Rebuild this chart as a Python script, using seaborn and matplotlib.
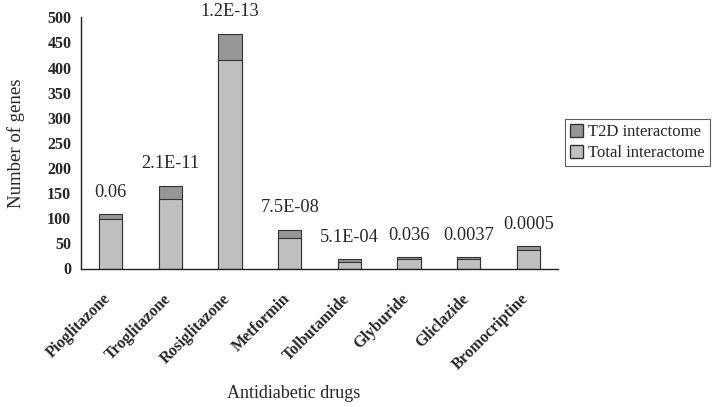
import numpy as np
import pandas as pd
import matplotlib
matplotlib.use("Agg")
import matplotlib.pyplot as plt
from matplotlib.patches import Patch
import seaborn as sns

drugs = ["Pioglitazone", "Troglitazone", "Rosiglitazone", "Metformin",
         "Tolbutamide", "Glyburide", "Gliclazide", "Bromocriptine"]
total_interactome = [98, 138, 416, 61, 12, 19, 18, 36]
t2d_interactome = [10, 27, 51, 16, 6, 3, 4, 8]
pvalues = ["0.06", "2.1E-11", "1.2E-13", "7.5E-08", "5.1E-04", "0.036", "0.0037", "0.0005"]

sns.set_style("white")
plt.rcParams["font.family"] = ["Liberation Serif", "DejaVu Serif"]

df = pd.DataFrame({"drug": drugs, "total": total_interactome, "t2d": t2d_interactome})
df["top"] = df["total"] + df["t2d"]

light = "#c0c0c0"
dark = "#969696"

fig = plt.figure(figsize=(7.13, 4.07), dpi=100)
ax = fig.add_axes([81 / 713, 1 - 268.5 / 407, (558 - 81) / 713, (268.5 - 17.3) / 407])

# stacked: draw full height in dark, then the total part on top of it in light
sns.barplot(data=df, x="drug", y="top", color=dark, saturation=1, width=0.39,
            edgecolor="#333333", linewidth=0.8, ax=ax)
sns.barplot(data=df, x="drug", y="total", color=light, saturation=1, width=0.39,
            edgecolor="#333333", linewidth=0.8, ax=ax)

for i, (h, p) in enumerate(zip(df["top"], pvalues)):
    ax.annotate(p, (i, h), xytext=(0, 16), textcoords="offset points",
                ha="center", va="center", fontsize=13.2)

ax.set_ylim(0, 500)
ax.set_xlim(-0.5, len(drugs) - 0.5)
ax.set_yticks(range(0, 501, 50))
ax.set_yticklabels([str(v) for v in range(0, 501, 50)], fontweight="bold", fontsize=11.5)
# labels sit a bit left of the bar centre (major ticks are hidden)
ax.set_xticks(np.arange(len(drugs)) - 0.13)
ax.set_xticklabels(drugs, rotation=45, ha="right", rotation_mode="anchor",
                   fontweight="bold", fontsize=11.5)
ax.set_xticks(np.arange(-0.5, len(drugs), 1), minor=True)
ax.tick_params(axis="x", which="major", length=0, pad=16)
ax.tick_params(axis="x", which="minor", length=5, width=1, color="#222222", direction="out")
ax.tick_params(axis="y", length=5, width=1, color="#222222", direction="out", pad=2)
ax.set_xlabel("")
ax.set_ylabel("Number of genes", fontsize=13.5)
ax.yaxis.set_label_coords(-(81 - 25) / 477, 0.5)

for s in ["top", "right"]:
    ax.spines[s].set_visible(False)
for s in ["left", "bottom"]:
    ax.spines[s].set_color("#222222")
    ax.spines[s].set_linewidth(1)

fig.text(294 / 713, 1 - 393 / 407, "Antidiabetic drugs", ha="center", va="center", fontsize=13)

handles = [Patch(facecolor=dark, edgecolor="#333333", label="T2D interactome"),
           Patch(facecolor=light, edgecolor="#333333", label="Total interactome")]
leg = fig.legend(handles=handles, loc="upper left", bbox_to_anchor=(565 / 713, 1 - 119 / 407),
                 fontsize=12, frameon=True, fancybox=False, handlelength=0.8, handleheight=0.8,
                 handletextpad=0.3, borderpad=0.3, labelspacing=0.3, borderaxespad=0)
leg.get_frame().set_edgecolor("#333333")
leg.get_frame().set_linewidth(0.8)

fig.savefig("out.png", dpi=100)
